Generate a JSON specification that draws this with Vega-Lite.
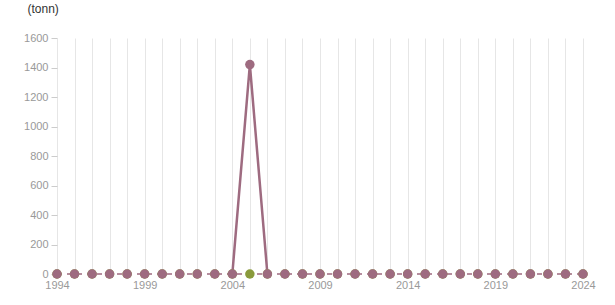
{
  "$schema": "https://vega.github.io/schema/vega-lite/v6.json",
  "width": 526,
  "height": 236,
  "autosize": "none",
  "padding": {"left": 57, "top": 38, "right": 32, "bottom": 31},
  "config": {"view": {"stroke": null}, "font": "Liberation Sans"},
  "data": {"values": [
    {"year": 1994, "series": "A", "value": 0}, {"year": 1995, "series": "A", "value": 0}, {"year": 1996, "series": "A", "value": 0},
    {"year": 1997, "series": "A", "value": 0}, {"year": 1998, "series": "A", "value": 0}, {"year": 1999, "series": "A", "value": 0},
    {"year": 2000, "series": "A", "value": 0}, {"year": 2001, "series": "A", "value": 0}, {"year": 2002, "series": "A", "value": 0},
    {"year": 2003, "series": "A", "value": 0}, {"year": 2004, "series": "A", "value": 0}, {"year": 2005, "series": "A", "value": 1420},
    {"year": 2006, "series": "A", "value": 0}, {"year": 2007, "series": "A", "value": 0}, {"year": 2008, "series": "A", "value": 0},
    {"year": 2009, "series": "A", "value": 0}, {"year": 2010, "series": "A", "value": 0}, {"year": 2011, "series": "A", "value": 0},
    {"year": 2012, "series": "A", "value": 0}, {"year": 2013, "series": "A", "value": 0}, {"year": 2014, "series": "A", "value": 0},
    {"year": 2015, "series": "A", "value": 0}, {"year": 2016, "series": "A", "value": 0}, {"year": 2017, "series": "A", "value": 0},
    {"year": 2018, "series": "A", "value": 0}, {"year": 2019, "series": "A", "value": 0}, {"year": 2020, "series": "A", "value": 0},
    {"year": 2021, "series": "A", "value": 0}, {"year": 2022, "series": "A", "value": 0}, {"year": 2023, "series": "A", "value": 0},
    {"year": 2024, "series": "A", "value": 0},
    {"year": 1994, "series": "B", "value": 0}, {"year": 1995, "series": "B", "value": 0}, {"year": 1996, "series": "B", "value": 0},
    {"year": 1997, "series": "B", "value": 0}, {"year": 1998, "series": "B", "value": 0}, {"year": 1999, "series": "B", "value": 0},
    {"year": 2000, "series": "B", "value": 0}, {"year": 2001, "series": "B", "value": 0}, {"year": 2002, "series": "B", "value": 0},
    {"year": 2003, "series": "B", "value": 0}, {"year": 2004, "series": "B", "value": 0}, {"year": 2005, "series": "B", "value": 0},
    {"year": 2006, "series": "B", "value": 0}, {"year": 2007, "series": "B", "value": 0}, {"year": 2008, "series": "B", "value": 0},
    {"year": 2009, "series": "B", "value": 0}, {"year": 2010, "series": "B", "value": 0}, {"year": 2011, "series": "B", "value": 0},
    {"year": 2012, "series": "B", "value": 0}, {"year": 2013, "series": "B", "value": 0}, {"year": 2014, "series": "B", "value": 0},
    {"year": 2015, "series": "B", "value": 0}, {"year": 2016, "series": "B", "value": 0}, {"year": 2017, "series": "B", "value": 0},
    {"year": 2018, "series": "B", "value": 0}, {"year": 2019, "series": "B", "value": 0}, {"year": 2020, "series": "B", "value": 0},
    {"year": 2021, "series": "B", "value": 0}, {"year": 2022, "series": "B", "value": 0}, {"year": 2023, "series": "B", "value": 0},
    {"year": 2024, "series": "B", "value": 0}
  ]},
  "encoding": {
    "x": {
      "field": "year", "type": "quantitative",
      "scale": {"domain": [1994, 2024], "nice": false, "zero": false},
      "axis": {
        "title": null,
        "values": [1994,1995,1996,1997,1998,1999,2000,2001,2002,2003,2004,2005,2006,2007,2008,2009,2010,2011,2012,2013,2014,2015,2016,2017,2018,2019,2020,2021,2022,2023,2024],
        "labelExpr": "(datum.value - 1994) % 5 == 0 ? datum.value : ''",
        "format": "d",
        "grid": true, "gridColor": "#e6e6e6", "gridWidth": 1,
        "domain": false, "ticks": false,
        "labelColor": "#999999", "labelFontSize": 11, "labelPadding": 5,
        "labelFlush": false, "labelOverlap": false
      }
    },
    "y": {
      "field": "value", "type": "quantitative",
      "scale": {"domain": [0, 1600], "nice": false},
      "axis": {
        "title": "(tonn)", "titleAngle": 0, "titleX": -30, "titleY": -30,
        "titleAlign": "left", "titleBaseline": "middle", "titleFontSize": 12,
        "titleFontWeight": "normal", "titleColor": "#333333",
        "values": [0,200,400,600,800,1000,1200,1400,1600],
        "format": "d",
        "grid": false, "domain": false,
        "ticks": true, "tickSize": 6, "tickColor": "#cccccc",
        "labelColor": "#999999", "labelFontSize": 11, "labelPadding": 3
      }
    }
  },
  "layer": [
    {
      "transform": [{"filter": "datum.series == 'B'"}],
      "mark": {"type": "line", "color": "#9e6b80", "strokeWidth": 1.5, "strokeDash": [5, 5]}
    },
    {
      "transform": [{"filter": "datum.series == 'A' && datum.year >= 2004 && datum.year <= 2006"}],
      "mark": {"type": "line", "color": "#9e6b80", "strokeWidth": 2.5}
    },
    {
      "transform": [{"filter": "datum.series == 'B'"}],
      "mark": {"type": "point", "filled": true, "opacity": 1, "color": "#8a9a3c", "size": 90}
    },
    {
      "transform": [{"filter": "datum.series == 'A'"}],
      "mark": {"type": "point", "filled": true, "opacity": 1, "color": "#9e6b80", "size": 90}
    }
  ]
}
